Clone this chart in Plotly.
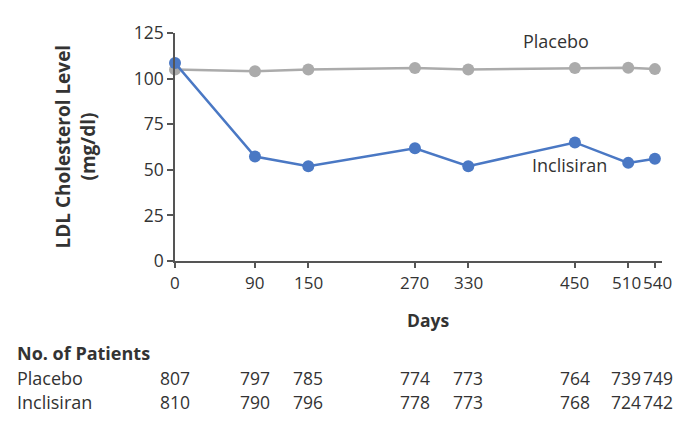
import plotly.graph_objects as go

days = [0, 90, 150, 270, 330, 450, 510, 540]
placebo_ldl = [105.0, 104.0, 105.0, 105.8, 105.0, 105.8, 106.0, 105.2]
inclisiran_ldl = [108.5, 57.3, 52.0, 61.8, 52.0, 65.0, 53.8, 56.1]
placebo_n = [807, 797, 785, 774, 773, 764, 739, 749]
inclisiran_n = [810, 790, 796, 778, 773, 768, 724, 742]
day_labels = [str(d) for d in days]
y_ticks = [0, 25, 50, 75, 100, 125]

FONT = "Open Sans"
TXT = "#333333"
BLUE = "#4a78c4"
GRAY = "#ababab"

fig = go.Figure()
fig.add_trace(go.Scatter(x=days, y=placebo_ldl, mode="lines+markers",
                         line=dict(color=GRAY, width=2.5),
                         marker=dict(color=GRAY, size=12),
                         cliponaxis=False, showlegend=False))
fig.add_trace(go.Scatter(x=days, y=inclisiran_ldl, mode="lines+markers",
                         line=dict(color=BLUE, width=2.5),
                         marker=dict(color=BLUE, size=12),
                         cliponaxis=False, showlegend=False))

# page body has an 8px margin; compensate
OFF = 8
W, H = 686 - OFF, 421 - OFF
L, R, T, B = 175 - OFF, 24, 26 - OFF, 160
pw = W - L - R
ph = H - T - B

def px_x(p):
    return (p - OFF - L) / pw

def px_y(p):
    return (H - B - (p - OFF)) / ph

def txt(x, y, s, size=18, xanchor="center", xref="paper", angle=0, xshift=0):
    return dict(x=x, y=y, xref=xref, yref="paper", text=s, showarrow=False, textangle=angle,
                xshift=xshift,
                font=dict(size=size, color=TXT, family=FONT), xanchor=xanchor, yanchor="middle")

# small nudges so that the crowded last two columns do not collide
shifts = {510: -2, 540: 3}

ann = []
ann.append(dict(x=468, y=120.5, xref="x", yref="y", text="Placebo", showarrow=False,
                font=dict(size=18, color=TXT, family=FONT), xanchor="right", yanchor="middle"))
ann.append(dict(x=444, y=52.6, xref="x", yref="y", text="Inclisiran", showarrow=False,
                font=dict(size=18, color=TXT, family=FONT), xanchor="center", yanchor="middle"))
ann.append(txt(px_x(63), px_y(143), "<b>LDL Cholesterol Level</b>", size=19, angle=-90))
ann.append(txt(px_x(88), px_y(143), "<b>(mg/dl)</b>", size=19, angle=-90))
ann.append(txt(px_x(428), px_y(322), "<b>Days</b>", size=17.5))
ann.append(txt(px_x(15), px_y(356), "<b>No. of Patients</b>", size=18, xanchor="left"))
ann.append(txt(px_x(15), px_y(382), "Placebo", size=18, xanchor="left"))
ann.append(txt(px_x(15), px_y(406), "Inclisiran", size=18, xanchor="left"))
for d, lab, a, b in zip(days, day_labels, placebo_n, inclisiran_n):
    s = shifts.get(d, 0)
    ann.append(txt(d, px_y(283), lab, size=17, xref="x", xshift=s))
    ann.append(txt(d, px_y(382), str(a), size=17.5, xref="x", xshift=s))
    ann.append(txt(d, px_y(406), str(b), size=17.5, xref="x", xshift=s))

shapes = [
    dict(type="rect", xref="paper", yref="paper", x0=px_x(679), x1=px_x(686), y0=px_y(421), y1=px_y(OFF),
         fillcolor="#efefef", line=dict(width=0), layer="below"),
]

fig.update_layout(
    width=W, height=H,
    margin=dict(l=L, r=R, t=T, b=B),
    paper_bgcolor="white", plot_bgcolor="white",
    font=dict(family=FONT, color=TXT, size=17),
    annotations=ann, shapes=shapes,
    xaxis=dict(range=[0, 548], tickmode="array", tickvals=days, showticklabels=False,
               showgrid=False, zeroline=False, showline=True, linecolor="#555555", linewidth=1.5,
               ticks="outside", ticklen=5, tickcolor="#555555", tickwidth=1.5),
    yaxis=dict(range=[0, 125], tickmode="array", tickvals=y_ticks,
               showgrid=False, zeroline=False, showline=True, linecolor="#555555", linewidth=1.5,
               ticks="outside", ticklen=6, tickcolor="#555555", tickwidth=1.5,
               tickfont=dict(size=17.5, color=TXT, family=FONT)),
)

fig.write_html("out.html")
